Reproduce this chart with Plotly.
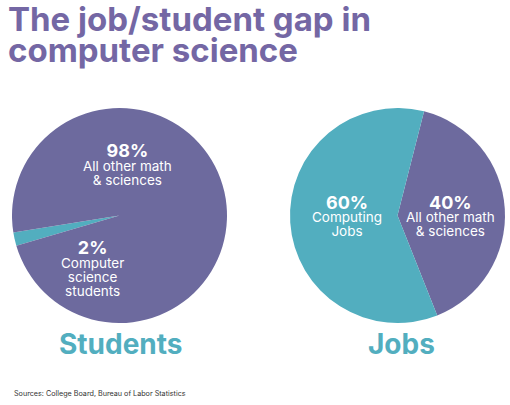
import plotly.graph_objects as go

# data
students_values = [2, 98]
students_labels = ["Computer science students", "All other math & sciences"]
students_lines = [["Computer", "science", "students"], ["All other math", "& sciences"]]

jobs_values = [40, 60]
jobs_labels = ["All other math & sciences", "Computing Jobs"]
jobs_lines = [["All other math", "& sciences"], ["Computing", "Jobs"]]

title_lines = ["The job/student gap in", "computer science"]
source_text = "Sources: College Board, Bureau of Labor Statistics"

W, H = 510, 405
PURPLE = "#6d6a9e"
TEAL = "#52aebf"
TITLE_PURPLE = "#7467a4"
FONT = "Inter"


def px(x):
    return x / W


def py(y):
    return 1 - y / H


fig = go.Figure()

fig.add_trace(go.Pie(
    values=students_values, labels=students_labels,
    marker=dict(colors=[TEAL, PURPLE], line=dict(width=0)),
    sort=False, direction="clockwise", rotation=253.7,
    textinfo="none", hoverinfo="label+percent",
    domain=dict(x=[px(12), px(227)], y=[py(323), py(108)]),
    showlegend=False,
))
fig.add_trace(go.Pie(
    values=jobs_values, labels=jobs_labels,
    marker=dict(colors=[PURPLE, TEAL], line=dict(width=0)),
    sort=False, direction="clockwise", rotation=14.3,
    textinfo="none", hoverinfo="label+percent",
    domain=dict(x=[px(290), px(505)], y=[py(323), py(108)]),
    showlegend=False,
))


def add_text(x, y, text, size, color, weight="normal", anchor="center"):
    fig.add_annotation(
        x=px(x), y=py(y), xref="paper", yref="paper",
        text=text, showarrow=False, xanchor=anchor, yanchor="middle",
        font=dict(family=FONT, size=size, color=color, weight=weight),
    )


# slice labels: value, lines, x centre, block centre y, base size (sets line step)
slice_pos = [
    (students_values[0], students_lines[0], 92, 268, 10.8),
    (students_values[1], students_lines[1], 127, 164, 10.8),
    (jobs_values[0], jobs_lines[0], 450, 215, 10.2),
    (jobs_values[1], jobs_lines[1], 347, 215, 10.2),
]
for val, lines, cx, cy, base in slice_pos:
    txt = f"<span style='font-size:18px;font-weight:bold'>{val}%</span>"
    for line in lines:
        txt += f"<br><span style='font-size:13.5px'>{line}</span>"
    add_text(cx, cy, txt, base, "white")

# chart names
add_text(121, 344, "Students", 28, TEAL, weight="bold")
add_text(401, 344, "Jobs", 28, TEAL, weight="bold")

# title
add_text(6, 19, title_lines[0], 33, TITLE_PURPLE, weight="bold", anchor="left")
add_text(6, 50, title_lines[1], 33, TITLE_PURPLE, weight="bold", anchor="left")

# source
add_text(12, 393, source_text, 7.2, "#333333", anchor="left")

fig.update_layout(
    width=W, height=H,
    margin=dict(l=0, r=0, t=0, b=0),
    paper_bgcolor="white", plot_bgcolor="white",
)
fig.write_html("out.html", config={"displayModeBar": False},
               post_script="document.body.style.margin='0';")
